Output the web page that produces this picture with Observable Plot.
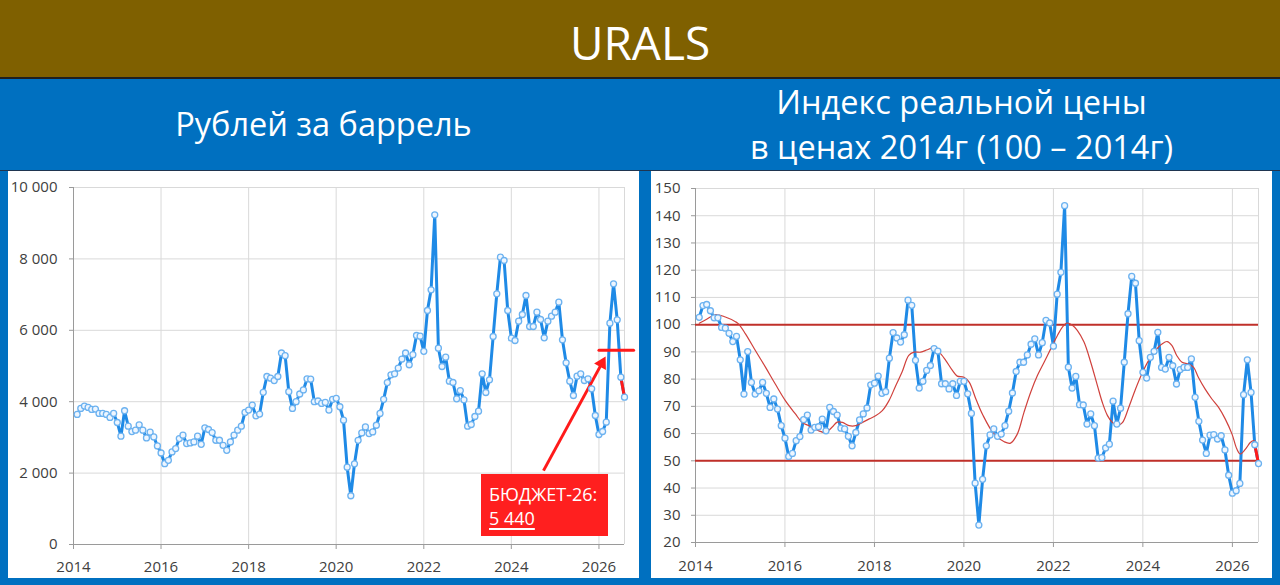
<!DOCTYPE html>
<html>
<head>
<meta charset="utf-8">
<script src="https://cdn.jsdelivr.net/npm/d3@7"></script>
<script src="https://cdn.jsdelivr.net/npm/@observablehq/plot@0.6"></script>
<style>
  html, body { margin: 0; padding: 0; }
  body { width: 1280px; height: 585px; overflow: hidden; position: relative; background: #0070C0; font-family: "Open Sans", "Noto Sans", sans-serif; }
  #band { position: absolute; left: 0; top: 0; width: 1280px; height: 77px; background: #7F6000; border-bottom: 2px solid #1f1f1f; }
  #title { position: absolute; left: 0; top: 12px; width: 1280px; text-align: center; color: #fff; font-size: 46px; line-height: 60px; }
  .sub { position: absolute; color: #fff; font-size: 32.5px; line-height: 45px; text-align: center; white-space: nowrap; }
  #sep { position: absolute; left: 0; top: 170px; width: 1280px; height: 1px; background: #1f3550; }
  .panel { position: absolute; top: 171px; height: 407px; background: #fff; overflow: visible; }
  #budgetBox { position: absolute; left: 481px; top: 474px; width: 127px; height: 62px; background: #ff1f1f; color: #fff; font-size: 18px; line-height: 24px; box-sizing: border-box; padding: 8px 0 0 8px; }
  #budgetBox u { text-decoration-thickness: 1.5px; text-underline-offset: 3px; }
</style>
</head>
<body>
<div id="band"></div>
<div id="title">URALS</div>
<div class="sub" style="left:8px; width:631px; top:101px;">Рублей за баррель</div>
<div class="sub" style="left:651px; width:621px; top:79px;">Индекс реальной цены<br>в ценах 2014г (100 – 2014г)</div>
<div id="sep"></div>
<div class="panel" id="left" style="left:8px; width:631px;"></div>
<div class="panel" id="right" style="left:651px; width:621px;"></div>
<div id="budgetBox">БЮДЖЕТ-26:<br><u>5 440</u></div>
<script>
// ---- data (monthly, first value = month index 1 after Jan 2014) ----
const firstMonth = 1;
const rubPerBarrel = [
  3643, 3812, 3878, 3840, 3784, 3793, 3671, 3671, 3643, 3559, 3671, 3418,
  3033, 3746, 3315, 3164, 3202, 3352, 3202, 2986, 3145, 3014, 2760, 2563,
  2263, 2357, 2592, 2686, 2967, 3061, 2826, 2845, 2873, 3033, 2807, 3268,
  3221, 3136, 2920, 2920, 2779, 2638, 2873, 3061, 3202, 3315, 3700, 3765,
  3906, 3605, 3652, 4263, 4706, 4659, 4593, 4706, 5364, 5289, 4282, 3812,
  4000, 4216, 4329, 4640, 4630, 4000, 4019, 3953, 3981, 3765, 4066, 4094,
  3859, 3482, 2165, 1365, 2259, 2918, 3125, 3294, 3106, 3153, 3341, 3671,
  4066, 4536, 4753, 4781, 4941, 5195, 5364, 5035, 5317, 5854, 5835, 5412,
  6554, 7134, 9234, 5499, 4986, 5247, 4575, 4538, 4080, 4313, 4052, 3315,
  3362, 3586, 3735, 4781, 4258, 4613, 5826, 7021, 8048, 7955, 6554, 5780,
  5714, 6256, 6443, 6975, 6107, 6107, 6508, 6303, 5789, 6256, 6396, 6508,
  6788, 5733, 5089, 4575, 4174, 4716, 4781, 4594, 4641, 4360, 3613, 3081,
  3165, 3426, 6200, 7302, 6293, 4687, 4127
];
const realIndex = [
  102.7, 107.0, 107.4, 105.1, 102.5, 102.5, 99.0, 98.7, 96.8, 93.8, 95.7, 87.1,
  74.5, 90.1, 78.8, 74.5, 75.7, 78.8, 74.8, 69.6, 72.7, 69.0, 62.9, 58.3,
  51.6, 52.7, 57.4, 58.9, 65.1, 66.8, 61.3, 62.3, 62.5, 65.3, 61.0, 69.6,
  68.1, 66.8, 62.0, 61.7, 59.0, 55.5, 60.4, 65.0, 67.2, 69.4, 77.9, 78.5,
  81.1, 74.8, 75.4, 87.7, 97.1, 95.1, 93.6, 96.3, 109.0, 107.1, 86.9, 76.7,
  79.2, 83.2, 85.0, 91.2, 90.3, 78.3, 78.3, 76.4, 78.3, 74.0, 79.2, 79.2,
  74.6, 67.4, 41.8, 26.4, 43.2, 55.5, 59.5, 61.7, 59.0, 59.8, 62.9, 68.2,
  74.9, 82.8, 86.2, 86.2, 88.9, 92.8, 94.8, 88.9, 93.4, 101.6, 100.6, 92.1,
  111.2, 119.2, 143.7, 84.4, 76.7, 81.0, 70.6, 70.5, 63.5, 67.2, 62.9, 51.0,
  51.2, 54.7, 56.1, 71.9, 63.5, 69.3, 86.2, 104.0, 117.7, 115.2, 94.1, 82.5,
  80.4, 88.0, 90.2, 97.2, 84.3, 83.7, 88.0, 84.9, 78.2, 83.5, 84.3, 84.3,
  87.4, 73.3, 64.5, 57.6, 52.7, 59.4, 59.6, 58.0, 59.2, 54.0, 44.7, 38.1,
  39.0, 41.7, 74.3, 87.1, 75.1, 55.9, 49.0
];
const maMonth = [1, 3, 5.4, 8, 10.7, 11.6, 13.4, 16.1, 18.8, 21.4, 24.1, 26.8, 28.6, 30.4, 33.1, 34.9, 36.6, 38.0,
  39.4, 41.2, 43.0, 44.8, 46.6, 48.4, 50.1, 51.9, 53.7, 55.4, 57.2, 58.6, 60.4, 62.2, 63.5, 65.3, 67.1, 68.9,
  70.2, 72.0, 73.4, 75.2, 77.0, 80.1, 82.8, 84.5, 86.3, 88.1, 89.9, 91.7, 93.5, 95.3, 97.1, 98.4, 99.6, 101.1,
  102.4, 104.2, 106.0, 107.8, 109.1, 110.5, 111.8, 113.1, 114.5, 116.2, 118.0, 119.7, 121.5, 123.3, 125.1, 126.5,
  127.8, 129.1, 130.5, 132.3, 133.6, 134.9, 136.7, 138.5, 140.3, 142.1, 143.9, 145.2, 146.1, 147.5, 148.8, 149.7, 150.6];
const maValue = [100.5, 102, 103.7, 102.8, 101.1, 100.2, 96.6, 90.4, 84.3, 78.2, 72.1, 67.2, 64.1, 62.9, 61.0, 60.4, 62.3, 64.2,
  64.1, 62.9, 62.9, 64.1, 65.4, 66.6, 68.4, 72.1, 77.6, 82.6, 88.7, 89.9, 89.9, 90.8, 91.4, 89.9, 86.9, 83.2,
  81.1, 80.7, 78.9, 72.7, 67.0, 59.8, 57.0, 56.5, 59.8, 67.8, 75.2, 81.3, 86.2, 91.2, 96.1, 99.1, 100.6, 99.8,
  97.9, 93.6, 86.2, 77.6, 71.5, 66.6, 64.1, 62.9, 64.0, 69.6, 76.3, 81.9, 86.8, 90.4, 92.9, 93.8,
  92.3, 88.6, 86.2, 85.5, 84.3, 80.6, 76.3, 72.7, 69.6, 65.3, 59.8, 54.3, 52.5, 54.3, 56.7, 57.4, 56.4];
const yearTicks = [2014, 2016, 2018, 2020, 2022, 2024, 2026];
const rubTicks = [0, 2000, 4000, 6000, 8000, 10000];
const indexTicks = [20, 30, 40, 50, 60, 70, 80, 90, 100, 110, 120, 130, 140, 150];
const indexLevels = [100, 50];
const budget26 = 5440;
const budgetSpan = [144, 153.5];            // months from Jan 2014
const budgetArrow = {from: [128.8, 2070], to: [145.8, 5270], head: [144.8, 5073], angle: 28.5}; // [month, rubles]

// ---- helpers ----
const t0 = Date.UTC(2014, 0, 1);
const monthDate = m => new Date(t0 + m * (365.25 / 12) * 864e5);
const yearDates = yearTicks.map(y => new Date(Date.UTC(y, 0, 1)));
const lastMonth = firstMonth + rubPerBarrel.length - 1;
const xDomain = [monthDate(0), monthDate(lastMonth)];
const fmtThousands = d => d3.format(",")(d).replace(/,/g, "\u00a0");

const BLUE = "#1f8ae6";
const RED = "#ff1a1a";
const grid = "#d9d9d9";
const axisGray = "#9a9a9a";
const textGray = "#404040";

const rubRows = rubPerBarrel.map((v, i) => ({date: monthDate(firstMonth + i), v}));
const idxRows = realIndex.map((v, i) => ({date: monthDate(firstMonth + i), v}));
const maRows = maMonth.map((m, i) => ({date: monthDate(m), v: maValue[i]}));

const dotOpts = {x: "date", y: "v", r: 3, fill: "#eef6ff", stroke: "#6cb2f0", strokeWidth: 1.3};

function commonX() {
  return [
    Plot.gridX(yearDates, {stroke: grid, strokeOpacity: 1}),
    Plot.ruleX([xDomain[1]], {stroke: grid, strokeOpacity: 1})
  ];
}

// ---- left chart ----
const left = Plot.plot({
  width: 631, height: 407,
  marginLeft: 65, marginRight: 15, marginTop: 16, marginBottom: 34,
  style: {fontFamily: "'Open Sans', 'Noto Sans', sans-serif", fontSize: "15px", color: textGray, background: "#fff", overflow: "visible"},
  x: {type: "utc", domain: xDomain},
  y: {domain: [0, 10000]},
  marks: [
    Plot.gridY(rubTicks, {stroke: grid, strokeOpacity: 1}),
    ...commonX(),
    Plot.ruleY([0], {stroke: axisGray}),
    Plot.ruleX([xDomain[0]], {stroke: axisGray}),
    Plot.axisY({ticks: rubTicks, tickSize: 4, tickPadding: 12, tickFormat: fmtThousands, stroke: axisGray, fill: textGray, label: null}),
    Plot.axisX({ticks: yearDates, tickSize: 5, tickPadding: 12, tickFormat: d3.utcFormat("%Y"), stroke: axisGray, fill: textGray, label: null}),
    Plot.line(rubRows, {x: "date", y: "v", stroke: BLUE, strokeWidth: 3}),
    Plot.line(rubRows.slice(-2), {x: "date", y: "v", stroke: RED, strokeWidth: 3}),
    Plot.line([{date: monthDate(budgetSpan[0]), v: budget26}, {date: monthDate(budgetSpan[1]), v: budget26}],
      {x: "date", y: "v", stroke: RED, strokeWidth: 3}),
    Plot.link([budgetArrow], {
      x1: d => monthDate(d.from[0]), y1: d => d.from[1],
      x2: d => monthDate(d.head[0]), y2: d => d.head[1],
      stroke: RED, strokeWidth: 3
    }),
    Plot.dot([budgetArrow], {
      x: d => monthDate(d.head[0]), y: d => d.head[1],
      symbol: "triangle", r: 5, fill: RED, stroke: "none", rotate: d => d.angle
    }),
    Plot.dot(rubRows, dotOpts)
  ]
});
document.getElementById("left").appendChild(left);

// ---- right chart ----
const right = Plot.plot({
  width: 621, height: 407,
  marginLeft: 44, marginRight: 14, marginTop: 17, marginBottom: 36,
  style: {fontFamily: "'Open Sans', 'Noto Sans', sans-serif", fontSize: "15px", color: textGray, background: "#fff", overflow: "visible"},
  x: {type: "utc", domain: xDomain},
  y: {domain: [20, 150]},
  marks: [
    Plot.gridY(indexTicks, {stroke: grid, strokeOpacity: 1}),
    ...commonX(),
    Plot.ruleY([20], {stroke: axisGray}),
    Plot.ruleX([xDomain[0]], {stroke: axisGray}),
    Plot.axisY({ticks: indexTicks, tickSize: 4, tickPadding: 11, stroke: axisGray, fill: textGray, label: null}),
    Plot.axisX({ticks: yearDates, tickSize: 5, tickPadding: 13, tickFormat: d3.utcFormat("%Y"), stroke: axisGray, fill: textGray, label: null}),
    Plot.ruleY(indexLevels, {stroke: "#c0302a", strokeWidth: 2}),
    Plot.line(idxRows, {x: "date", y: "v", stroke: BLUE, strokeWidth: 3}),
    Plot.line(idxRows.slice(-2), {x: "date", y: "v", stroke: RED, strokeWidth: 3}),
    Plot.line(maRows, {x: "date", y: "v", stroke: "#d0413c", strokeWidth: 1.2, curve: "catmull-rom"}),
    Plot.dot(idxRows, dotOpts)
  ]
});
document.getElementById("right").appendChild(right);
</script>
</body>
</html>
